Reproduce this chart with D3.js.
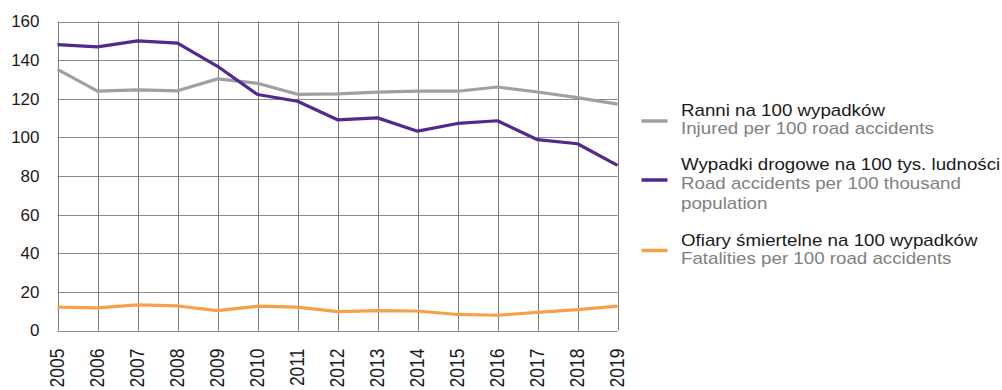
<!DOCTYPE html>
<html>
<head>
<meta charset="utf-8">
<script src="https://cdn.jsdelivr.net/npm/d3@7"></script>
<style>
  html, body { margin: 0; padding: 0; background: #fff; }
  svg { display: block; font-family: "Liberation Sans", Arial, sans-serif; }
</style>
</head>
<body>
<svg id="chart" width="1002" height="390"></svg>
<script>
const years = [2005,2006,2007,2008,2009,2010,2011,2012,2013,2014,2015,2016,2017,2018,2019];
const injured = [135.2,123.9,124.6,124.1,130.3,128.0,122.3,122.5,123.4,123.9,123.9,126.1,123.5,120.6,117.2];
const accidents = [148.0,146.9,150.0,148.8,136.8,122.2,118.7,109.1,110.1,103.2,107.2,108.6,98.8,96.7,85.5];
const fatalities = [12.1,11.7,13.3,12.7,10.3,12.6,12.1,9.8,10.3,10.1,8.3,7.9,9.4,10.8,12.6];
const yTicks = [0,20,40,60,80,100,120,140,160];
const legendTitles = ["Ranni na 100 wypadków", "Wypadki drogowe na 100 tys. ludności", "Ofiary śmiertelne na 100 wypadków"];
const legendSubs = [["Injured per 100 road accidents"], ["Road accidents per 100 thousand", "population"], ["Fatalities per 100 road accidents"]];
const colors = ["#a0a0a2", "#51298f", "#f7a04b"];

const svg = d3.select("#chart");
const pLeft = 57.5, pRight = 617.5, pTop = 21.5, pBottom = 330.5;

const x = d3.scalePoint().domain(years).range([pLeft, pRight]);
const y = d3.scaleLinear().domain([0,160]).range([pBottom, pTop]);

// grid
const grid = svg.append("g");
grid.selectAll("line.h").data(yTicks).join("line").attr("class", "h")
  .attr("x1", pLeft).attr("x2", pRight)
  .attr("y1", d => Math.round(y(d)) + 0.5).attr("y2", d => Math.round(y(d)) + 0.5)
  .attr("stroke", "#8a8a8a").attr("stroke-width", 1);
grid.selectAll("line.v").data(years).join("line").attr("class", "v")
  .attr("x1", d => Math.round(x(d)) + 0.5).attr("x2", d => Math.round(x(d)) + 0.5)
  .attr("y1", pTop).attr("y2", pBottom)
  .attr("stroke", "#7a7a7a").attr("stroke-width", 1);

// y axis labels
const yAxis = d3.axisLeft(y).tickValues(yTicks).tickSize(0).tickPadding(0);
const ya = svg.append("g").attr("transform", `translate(${pLeft - 18},0)`).call(yAxis);
ya.select(".domain").remove();
ya.selectAll("text").attr("font-size", 17).attr("fill", "#1a1a1a")
  .attr("font-family", "Liberation Sans, Arial, sans-serif");

// x axis labels
const xAxis = d3.axisBottom(x).tickSize(0).tickPadding(0).tickFormat(d3.format("d"));
const xa = svg.append("g").attr("transform", `translate(0,${pBottom})`).call(xAxis);
xa.select(".domain").remove();
xa.selectAll("text")
  .attr("font-size", 17.5).attr("fill", "#1a1a1a")
  .attr("font-family", "Liberation Sans, Arial, sans-serif")
  .attr("text-anchor", "end")
  .attr("dy", null).attr("y", 0)
  .attr("transform", "translate(6,18) rotate(-90) scale(1,1.15)");

// lines
const line = d3.line().x((d, i) => x(years[i])).y(d => y(d));
[injured, accidents, fatalities].forEach((s, i) => {
  svg.append("path").datum(s).attr("d", line)
    .attr("fill", "none").attr("stroke", colors[i]).attr("stroke-width", 3.2)
    .attr("stroke-linejoin", "round");
});

// legend
const legY = [121, 180, 250.5];
const titleBase = [115.5, 170, 245.5];
legendTitles.forEach((t, i) => {
  const g = svg.append("g");
  g.append("line").attr("x1", 641.5).attr("x2", 667.5)
    .attr("y1", legY[i]).attr("y2", legY[i])
    .attr("stroke", colors[i]).attr("stroke-width", 3.5);
  g.append("text")
    .attr("transform", `translate(681,${titleBase[i]}) scale(1.17,1)`)
    .attr("font-size", 16).attr("fill", "#1a1a1a").text(t);
  legendSubs[i].forEach((s, j) => {
    g.append("text")
      .attr("transform", `translate(681,${titleBase[i] + 18.7 + j * 20.5}) scale(1.17,1)`)
      .attr("font-size", 16).attr("fill", "#808080").text(s);
  });
});
</script>
</body>
</html>
